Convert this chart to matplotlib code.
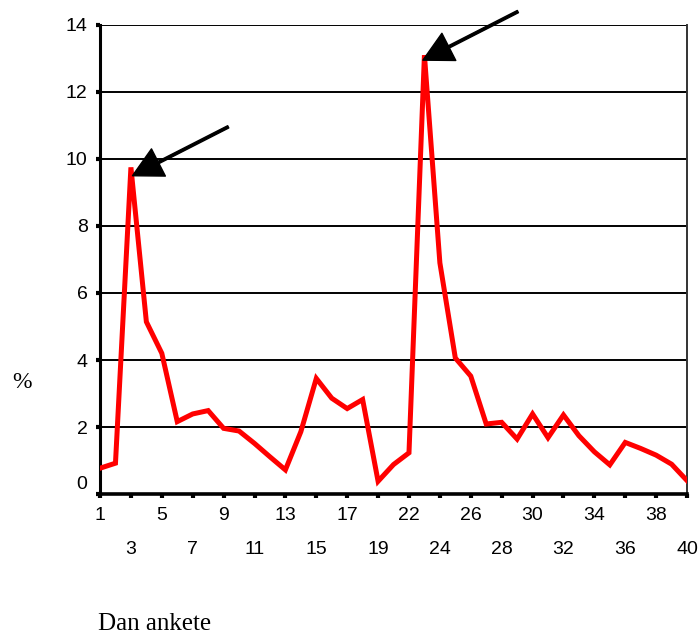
import numpy as np
import matplotlib
matplotlib.use("Agg")
import matplotlib.pyplot as plt
from matplotlib.transforms import ScaledTranslation

# survey days (20 is missing in the original series)
days = list(range(1, 20)) + list(range(21, 41))
percent = [0.77, 0.92, 9.75, 5.14, 4.2, 2.16, 2.39, 2.49, 1.96, 1.88,
           1.51, 1.11, 0.72, 1.86, 3.45, 2.86, 2.55, 2.82, 0.38,
           0.88, 1.23, 13.1, 6.9, 4.06, 3.52, 2.09, 2.14, 1.64, 2.39,
           1.68, 2.36, 1.74, 1.26, 0.87, 1.54, 1.36, 1.16, 0.89, 0.40]
yticks = [0, 2, 4, 6, 8, 10, 12, 14]

fig = plt.figure(figsize=(6.98, 6.34), dpi=100)
ax = fig.add_axes([0.1433, 0.2208, 0.8410, 0.7398])

x = np.arange(len(days))
ax.plot(x, percent, color='red', lw=3.6, solid_joinstyle='miter', zorder=3)

ax.set_xlim(0, len(days) - 1)
ax.set_ylim(0, 14)

# horizontal grid lines
for v in yticks[1:]:
    ax.axhline(v, color='black', lw=1.4, zorder=1)

ax.spines['top'].set_visible(False)
ax.spines['left'].set_linewidth(2.2)
ax.spines['bottom'].set_linewidth(2.6)
ax.spines['right'].set_linewidth(1.4)
ax.spines['right'].set_color('#333333')

tick_font = {'family': 'Liberation Sans', 'size': 14}
ax.set_yticks(yticks)
ax.set_yticklabels([str(v) for v in yticks], fontdict=tick_font)
ax.tick_params(axis='y', length=3, width=3, pad=6, direction='out')

ax.set_xticks(x[::2])
ax.set_xticklabels([str(d) for d in days[::2]], fontdict=tick_font)
ax.tick_params(axis='x', length=3, width=3, pad=6, direction='out')
for i, t in enumerate(ax.xaxis.get_major_ticks()):
    if i % 2 == 1:
        t.set_pad(31)

# the 0 label is raised a bit in the original
lab0 = ax.yaxis.get_major_ticks()[0].label1
lab0.set_transform(lab0.get_transform() + ScaledTranslation(0, 0.12, fig.dpi_scale_trans))

# arrows pointing at the two peaks
arrow = dict(facecolor='black', edgecolor='black', width=1.8, headwidth=22, headlength=21, shrink=0)
ax.annotate('', xy=(2.1, 9.5), xytext=(8.3, 10.96), arrowprops=arrow, annotation_clip=False)
ax.annotate('', xy=(20.9, 12.95), xytext=(27.05, 14.4), arrowprops=arrow, annotation_clip=False)

fig.text(22 / 698, 1 - 382 / 634, '%', family='Liberation Serif', size=17, ha='center', va='center')
fig.text(98 / 698, 1 - 630 / 634, 'Dan ankete', family='Liberation Serif', size=18, ha='left', va='baseline')

fig.savefig('out.png', dpi=100)
